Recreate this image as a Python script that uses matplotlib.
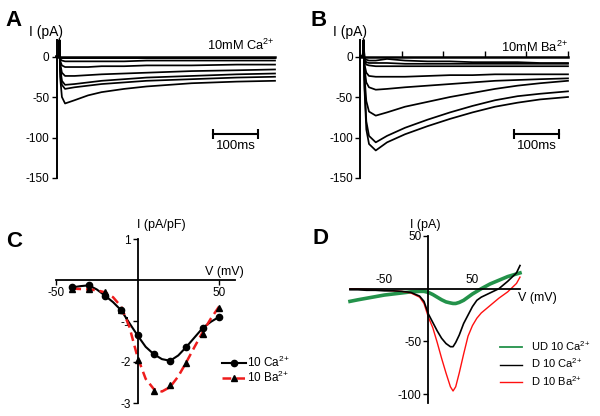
import matplotlib
matplotlib.use('Agg')
import matplotlib.pyplot as plt
import numpy as np

plt.rcParams['font.family'] = ['Liberation Sans', 'DejaVu Sans']
plt.rcParams['mathtext.fontset'] = 'custom'
plt.rcParams['mathtext.rm'] = 'Liberation Sans'
plt.rcParams['mathtext.it'] = 'Liberation Sans'
plt.rcParams['axes.unicode_minus'] = False

# ---------------- data ----------------
# Panel A: current traces, 10 mM Ca2+ (time ms, current pA)
tA = [0, 6, 6.5, 8, 12, 19, 40, 70, 100, 150, 200, 300, 400, 485]
A_traces = [
    [0, 0, 20, -25, -50, -58, -54, -48, -44, -40, -37, -33, -31, -30],
    [0, 0, 20, -15, -35, -40, -38, -36, -34, -32, -30, -28, -26, -25],
    [0, 0, 20, -12, -30, -35, -34, -32, -30, -28, -26, -24, -22, -21],
    [0, 0, 20, -8, -20, -24, -24, -23, -22, -21, -20, -18, -17, -16],
    [0, 0, 20, -5, -11, -13, -13, -13, -12, -12, -11, -11, -10, -10],
    [0, 0, 20, -3, -5, -6, -6, -6, -6, -6, -5, -5, -5, -5],
    [0, 0, 20, -1, -2, -2, -2, -2, -2, -2, -2, -2, -2, -2],
]

# Panel B: current traces, 10 mM Ba2+
tB = [0, 6, 8, 10, 14, 20, 35, 60, 100, 150, 200, 250, 300, 350, 400, 462]
B_traces = [
    [0, 0, 20, -40, -90, -108, -116, -106, -96, -86, -77, -69, -62, -57, -53, -50],
    [0, 0, 20, -35, -80, -98, -106, -98, -88, -78, -69, -61, -54, -49, -46, -43],
    [0, 0, 20, -25, -55, -68, -73, -69, -62, -56, -50, -45, -40, -36, -33, -30],
    [0, 0, 20, -15, -32, -38, -41, -40, -38, -36, -34, -32, -30, -29, -28, -27],
    [0, 0, 20, -10, -20, -24, -25, -25, -25, -24, -23, -23, -22, -22, -22, -22],
    [0, 0, 20, -6, -10, -11, -12, -12, -12, -12, -12, -12, -12, -12, -12, -12],
    [0, 0, 20, -4, -7, -8, -8, -8, -9, -9, -9, -9, -9, -9, -9, -9],
    [0, 0, 20, -2, -4, -5, -5, -3, -5, -6, -6, -7, -7, -7, -8, -8],
]

# Panel C: I-V (pA/pF)
V_pts = [-40, -30, -20, -10, 0, 10, 20, 30, 40, 50]
Ca_pts = [-0.18, -0.13, -0.38, -0.74, -1.35, -1.81, -1.97, -1.63, -1.17, -0.90]
Ba_pts = [-0.23, -0.23, -0.30, -0.72, -1.96, -2.70, -2.57, -2.03, -1.32, -0.69]
V_fit = [-40, -35, -30, -25, -20, -15, -10, -5, 0, 5, 10, 15, 20, 25, 30, 35, 40, 45, 50]
Ca_curve = [-0.18, -0.15, -0.13, -0.23, -0.38, -0.54, -0.74, -1.05, -1.35, -1.63, -1.81,
            -1.93, -1.97, -1.84, -1.63, -1.40, -1.17, -1.02, -0.90]
Ba_curve = [-0.21, -0.22, -0.23, -0.25, -0.30, -0.42, -0.65, -1.14, -1.88, -2.41, -2.66,
            -2.72, -2.61, -2.35, -2.00, -1.63, -1.27, -0.94, -0.65]

# Panel D: ramp I-V (pA)
V_ramp = [-89, -80, -70, -60, -50, -40, -30, -20, -10, -5, 0, 5, 10, 15, 20, 25, 28, 31,
          35, 40, 45, 50, 55, 60, 70, 80, 90, 100, 104]
UD_Ca = [-12, -10.5, -9, -7.5, -6, -5, -4, -3, -2.5, -2.5, -3.5, -5.5, -8, -10.5, -12.5,
         -13.5, -14, -14, -13, -11, -8, -5, -2.5, 0, 4.5, 8, 11.5, 14, 15]
D_Ca = [-1, -1, -1.5, -1.5, -2, -2, -2.5, -3.5, -7, -12, -24, -32, -40, -47, -52, -55, -55,
        -51, -44, -33, -25, -17, -11, -8, -4, 0, 7, 15, 22]
D_Ba = [0, 0, -0.5, -1, -1.5, -2, -2.5, -4, -8, -14, -27, -37, -51, -66, -80, -93, -97, -93,
        -80, -62, -45, -35, -28, -23, -16, -9, -3, 5, 11]

SUP = '$^{2{+}}$'
legend_C = ['10 Ca' + SUP, '10 Ba' + SUP]
legend_D = ['UD 10 Ca' + SUP, 'D 10 Ca' + SUP, 'D 10 Ba' + SUP]

# ---------------- figure ----------------
W, H = 600, 416
fig = plt.figure(figsize=(W / 100, H / 100), dpi=100)


def ax_px(l, t, r, b):
    return fig.add_axes([l / W, 1 - b / H, (r - l) / W, (b - t) / H])


def ftext(x, y, s, **kw):
    fig.text(x / W, 1 - y / H, s, **kw)


TICK = dict(length=3.5, width=1.0, labelsize=8.5, pad=1.5)


def trace_panel(l, r, t, traces, xmax, bar_left, with_ticks):
    ax = ax_px(l, 40.3, r, 178)
    for tr in traces:
        ax.plot(t, tr, color='black', lw=1.25, clip_on=False)
    ax.set_xlim(0, xmax)
    ax.set_ylim(-150, 20)
    for s in ['top', 'right']:
        ax.spines[s].set_visible(False)
    ax.spines['left'].set_linewidth(1.4)
    ax.spines['bottom'].set_position(('data', 0))
    ax.spines['bottom'].set_linewidth(1.8)
    ax.set_yticks([0, -50, -100, -150])
    ax.tick_params(axis='y', **TICK)
    if with_ticks:
        ax.set_xticks(np.linspace(0, xmax, 6)[1:])
        ax.tick_params(axis='x', direction='in', length=4, width=1.0, labelbottom=False)
    else:
        ax.set_xticks([])
    # scale bar 100 ms
    ax.plot([bar_left, bar_left + 100], [-96, -96], color='black', lw=1.5,
            marker='|', markersize=7, mew=1.5, clip_on=False)
    ax.text(bar_left + 50, -111, '100ms', ha='center', va='center', fontsize=9.5)
    return ax


axA = trace_panel(56.5, 275, tA, A_traces, 485, 348, False)
axB = trace_panel(360, 568, tB, B_traces, 462, 342, True)

ftext(29, 32, 'I (pA)', fontsize=10, va='center', ha='left')
ftext(333, 32, 'I (pA)', fontsize=10, va='center', ha='left')
ftext(275, 45, '10mM Ca' + SUP, fontsize=9.3, va='center', ha='right')
ftext(568, 47, '10mM Ba' + SUP, fontsize=9.3, va='center', ha='right')

# Panel C
axC = ax_px(56, 239, 235, 403)
axC.plot(V_fit, Ca_curve, color='black', lw=1.5, clip_on=False)
axC.plot(V_fit, Ba_curve, color='#ee1c1c', lw=1.8, ls=(0, (3.5, 2)), clip_on=False)
axC.plot(V_pts, Ca_pts, ls='none', marker='o', ms=4.5, color='black', clip_on=False)
axC.plot(V_pts, Ba_pts, ls='none', marker='^', ms=4.5, color='black', clip_on=False)
axC.set_xlim(-50, 59.8)
axC.set_ylim(-3, 1)
for s in ['top', 'right']:
    axC.spines[s].set_visible(False)
axC.spines['left'].set_position(('data', 0))
axC.spines['bottom'].set_position(('data', 0))
axC.spines['left'].set_linewidth(1.3)
axC.spines['bottom'].set_linewidth(1.3)
axC.set_xticks([-50, 50])
axC.set_yticks([1, -1, -2, -3])
axC.tick_params(**TICK)
hC = [plt.Line2D([], [], color='black', lw=1.5, marker='o', ms=4.5),
      plt.Line2D([], [], color='#ee1c1c', lw=1.8, ls=(0, (3.5, 2)), marker='^', ms=4.5,
                 mfc='black', mec='black')]
axC.legend(hC, legend_C, loc='upper left', bbox_to_anchor=(222 / W, 1 - 355 / H),
           bbox_transform=fig.transFigure, frameon=False, fontsize=8.5,
           handlelength=2.0, handletextpad=0.1, labelspacing=-0.05, borderpad=0,
           borderaxespad=0)
ftext(137, 225, 'I (pA/pF)', fontsize=9, va='center', ha='left')
ftext(205, 272, 'V (mV)', fontsize=9, va='center', ha='left')

# Panel D
axD = ax_px(350, 236, 520, 403)
axD.plot(V_ramp, UD_Ca, color='#23924a', lw=2.6, clip_on=False)
axD.plot(V_ramp, D_Ba, color='#ff1010', lw=1.0, clip_on=False)
axD.plot(V_ramp, D_Ca, color='black', lw=1.2, clip_on=False)
axD.set_xlim(-89, 104)
axD.set_ylim(-108.4, 50)
for s in ['top', 'right']:
    axD.spines[s].set_visible(False)
axD.spines['left'].set_position(('data', 0))
axD.spines['bottom'].set_position(('data', 0))
axD.spines['left'].set_linewidth(1.3)
axD.spines['bottom'].set_linewidth(1.3)
axD.set_xticks([-50, 50])
axD.set_yticks([50, -50, -100])
axD.tick_params(axis='y', **TICK)
axD.tick_params(axis='x', length=0, labelsize=8.5, pad=-10.5)
hD = [plt.Line2D([], [], color='#23924a', lw=1.3),
      plt.Line2D([], [], color='black', lw=1.0),
      plt.Line2D([], [], color='#ff1010', lw=1.0)]
axD.legend(hD, legend_D, loc='upper left', bbox_to_anchor=(500 / W, 1 - 339 / H),
           bbox_transform=fig.transFigure, frameon=False, fontsize=8,
           handlelength=2.0, handletextpad=0.8, labelspacing=0.35, borderpad=0,
           borderaxespad=0)
ftext(410, 225, 'I (pA)', fontsize=9, va='center', ha='left')
ftext(518, 298, 'V (mV)', fontsize=9, va='center', ha='left')

# panel letters
for x, y, s in [(14, 20, 'A'), (319, 20, 'B'), (14, 241, 'C'), (320, 239, 'D')]:
    ftext(x, y, s, fontsize=16, fontweight='bold', ha='center', va='center')

fig.savefig('out.png', dpi=100)
